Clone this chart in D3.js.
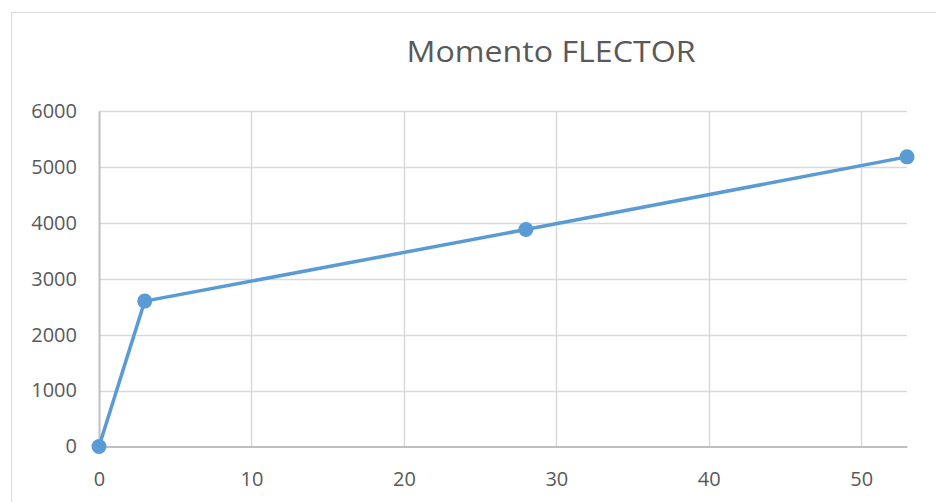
<!DOCTYPE html>
<html>
<head>
<meta charset="utf-8">
<script src="https://cdn.jsdelivr.net/npm/d3@7"></script>
<style>
  html, body { margin: 0; padding: 0; background: #fff; }
  svg { display: block; }
</style>
</head>
<body>
<svg id="chart" width="936" height="502"></svg>
<script>
// Bending moment along the beam
const chartTitle = "Momento FLECTOR";
const xValues = [0, 3, 28, 53];
const yValues = [0, 2600, 3880, 5180];
const xTicks = [0, 10, 20, 30, 40, 50];
const yTicks = [0, 1000, 2000, 3000, 4000, 5000, 6000];

const W = 936, H = 502;
const margin = { left: 99, right: 29, top: 111, bottom: 55.5 };
const font = "'Open Sans', sans-serif";
const textColor = "#595959";
const seriesColor = "#5b9bd5";

const svg = d3.select("#chart");

// chart frame
svg.append("rect")
  .attr("x", 11.5).attr("y", 12.5)
  .attr("width", W + 20).attr("height", H + 20)
  .attr("fill", "#fff")
  .attr("stroke", "#d9d9d9").attr("stroke-width", 1);

const x = d3.scaleLinear().domain([0, 53]).range([margin.left, W - margin.right]);
const y = d3.scaleLinear().domain([0, 6000]).range([H - margin.bottom, margin.top]);

// title
svg.append("text")
  .attr("x", 551).attr("y", 62)
  .attr("text-anchor", "middle")
  .attr("font-family", font).attr("font-size", 30)
  .attr("fill", textColor)
  .attr("textLength", 289).attr("lengthAdjust", "spacingAndGlyphs")
  .text(chartTitle);

// gridlines
const grid = svg.append("g");
grid.selectAll("line.h").data(yTicks.filter(d => d > 0)).join("line")
  .attr("x1", x(0)).attr("x2", x(53))
  .attr("y1", d => Math.round(y(d)) + 0.5).attr("y2", d => Math.round(y(d)) + 0.5)
  .attr("stroke", "#d9d9d9").attr("stroke-width", 1.5);
grid.selectAll("line.v").data(xTicks.filter(d => d > 0)).join("line")
  .attr("y1", y(0)).attr("y2", y(6000))
  .attr("x1", d => Math.round(x(d)) + 0.5).attr("x2", d => Math.round(x(d)) + 0.5)
  .attr("stroke", "#d9d9d9").attr("stroke-width", 1.5);

// axes
const xAxis = svg.append("g")
  .attr("transform", `translate(0,${y(0)})`)
  .call(d3.axisBottom(x).tickValues(xTicks).tickSize(0).tickPadding(25).tickFormat(d3.format("d")));
xAxis.select(".domain").attr("stroke", "#bfbfbf").attr("stroke-width", 2);

const yAxis = svg.append("g")
  .attr("transform", `translate(${x(0)},0)`)
  .call(d3.axisLeft(y).tickValues(yTicks).tickSize(0).tickPadding(22).tickFormat(d3.format("d")));
yAxis.select(".domain").attr("stroke", "#bfbfbf").attr("stroke-width", 2);

svg.selectAll(".tick text")
  .attr("font-family", font).attr("font-size", 20)
  .attr("fill", textColor);

// series
const pts = xValues.map((v, i) => [v, yValues[i]]);
svg.append("path")
  .datum(pts)
  .attr("fill", "none")
  .attr("stroke", seriesColor).attr("stroke-width", 3.5)
  .attr("stroke-linejoin", "round")
  .attr("d", d3.line().x(d => x(d[0])).y(d => y(d[1])));

svg.append("g").selectAll("circle").data(pts).join("circle")
  .attr("cx", d => x(d[0])).attr("cy", d => y(d[1]))
  .attr("r", 7.5)
  .attr("fill", seriesColor);
</script>
</body>
</html>
